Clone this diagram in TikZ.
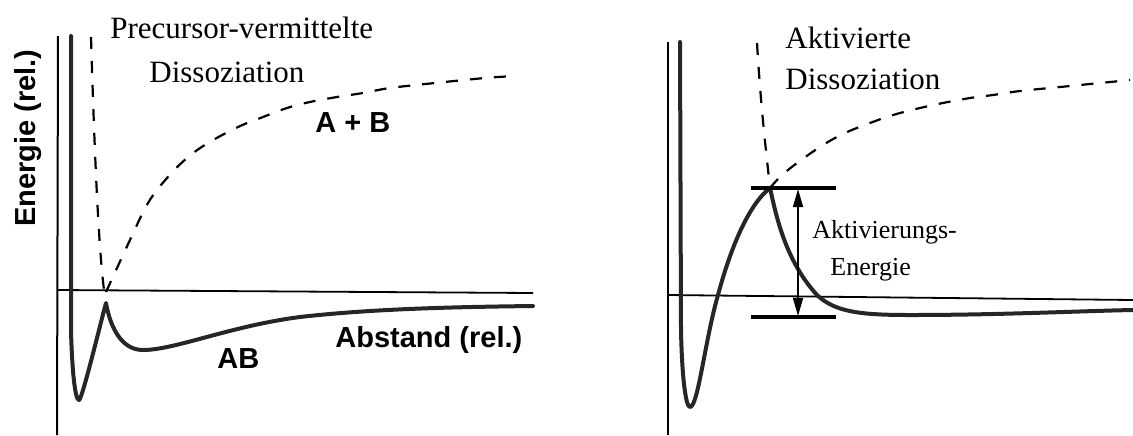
\documentclass[tikz,border=0pt]{standalone}
\usepackage{fontspec}
\setmainfont{Liberation Serif}
\setsansfont{Liberation Sans}
\usetikzlibrary{arrows.meta}
\tikzset{
  axisline/.style={line width=1pt, black},
  baseline line/.style={line width=0.9pt, black},
  potential/.style={line width=2pt, black!85, line join=round, line cap=round},
  dashcurve/.style={line width=1.1pt, black, dash pattern=on 6pt off 6pt},
  bar/.style={line width=1.6pt, black},
  serif label/.style={font=\fontsize{15.5}{18}\selectfont\rmfamily, inner sep=0pt, anchor=base west},
  sans label/.style={font=\fontsize{14.5}{17}\selectfont\sffamily\bfseries, inner sep=0pt, anchor=base west},
  small serif/.style={font=\fontsize{13}{15}\selectfont\rmfamily, inner sep=0pt, anchor=base west}
}
\begin{document}
\begin{tikzpicture}[x=0.5pt, y=-0.5pt]
\useasboundingbox (0,0) rectangle (1133,435);
% ---------- left panel ----------
\coordinate (LaxT) at (58,36);
\coordinate (LaxB) at (57,435);
\draw[axisline] (LaxT) -- (LaxB);
\coordinate (LhL) at (57,290);
\coordinate (LhR) at (533,293);
\draw[baseline line] (LhL) -- (LhR);
\draw[dashcurve] (91,37) .. controls (95,170) and (99,250) .. (104,290);
\draw[dashcurve] plot[smooth, tension=0.6] coordinates {(106,292) (117,268) (130,240) (148,203) (167,178) (187,158) (208,143) (238,127) (263,117) (287,108) (310,102) (337,97) (363,93) (390,88) (435,83) (485,78) (515,76)};
\draw[potential] (71,36) -- (71,330) .. controls (72,370) and (75,400) .. (79,400)
  .. controls (82,400) and (100,325) .. (106,303)
  .. controls (109,320) and (118,350) .. (143,350)
  .. controls (175,350) and (230,326) .. (300,317)
  .. controls (370,309) and (450,307) .. (533,306);
\node[serif label] (prec) at (110,38) {Precursor-vermittelte};
\node[serif label] (dissL) at (149,82) {Dissoziation};
\node[sans label] (ApB) at (315,132) {A + B};
\node[sans label] (AB) at (217,368) {AB};
\node[sans label] (abst) at (335,347) {Abstand (rel.)};
\node[sans label, rotate=90] (energ) at (35,227) {Energie (rel.)};
% ---------- right panel ----------
\coordinate (RaxT) at (668,42);
\coordinate (RaxB) at (668,435);
\draw[axisline] (RaxT) -- (RaxB);
\coordinate (RhL) at (668,295);
\coordinate (RhR) at (1133,300);
\draw[baseline line] (RhL) -- (RhR);
\draw[dashcurve] (757,43) .. controls (761,110) and (766,150) .. (770,188);
\draw[dashcurve] plot[smooth, tension=0.6] coordinates {(770,188) (780,177) (797,163) (823,145) (845,133) (870,123) (893,115) (920,108) (943,103) (970,98) (993,95) (1020,91) (1060,87) (1100,83) (1130,80)};
\draw[potential] (680,42) -- (681,330) .. controls (682,380) and (686,407) .. (690,407)
  .. controls (698,407) and (705,340) .. (718,295)
  .. controls (730,250) and (748,205) .. (770,188)
  .. controls (776,215) and (785,260) .. (817,295)
  .. controls (835,312) and (860,315) .. (910,315)
  .. controls (1000,315) and (1080,311) .. (1133,310);
\coordinate (barTL) at (751,188);
\coordinate (barTR) at (836,188);
\coordinate (barBL) at (751,317);
\coordinate (barBR) at (836,317);
\draw[bar] (barTL) -- (barTR);
\draw[bar] (barBL) -- (barBR);
\coordinate (arrT) at (798,189);
\coordinate (arrB) at (798,316);
\draw[line width=0.7pt, {Triangle[length=9pt,width=5pt]}-{Triangle[length=9pt,width=5pt]}] (arrT) -- (arrB);
\node[serif label] (aktiv) at (785,48) {Aktivierte};
\node[serif label] (dissR) at (785,89) {Dissoziation};
\node[small serif] (aktE1) at (812,238) {Aktivierungs-};
\node[small serif] (aktE2) at (830,275) {Energie};
\end{tikzpicture}
\end{document}
